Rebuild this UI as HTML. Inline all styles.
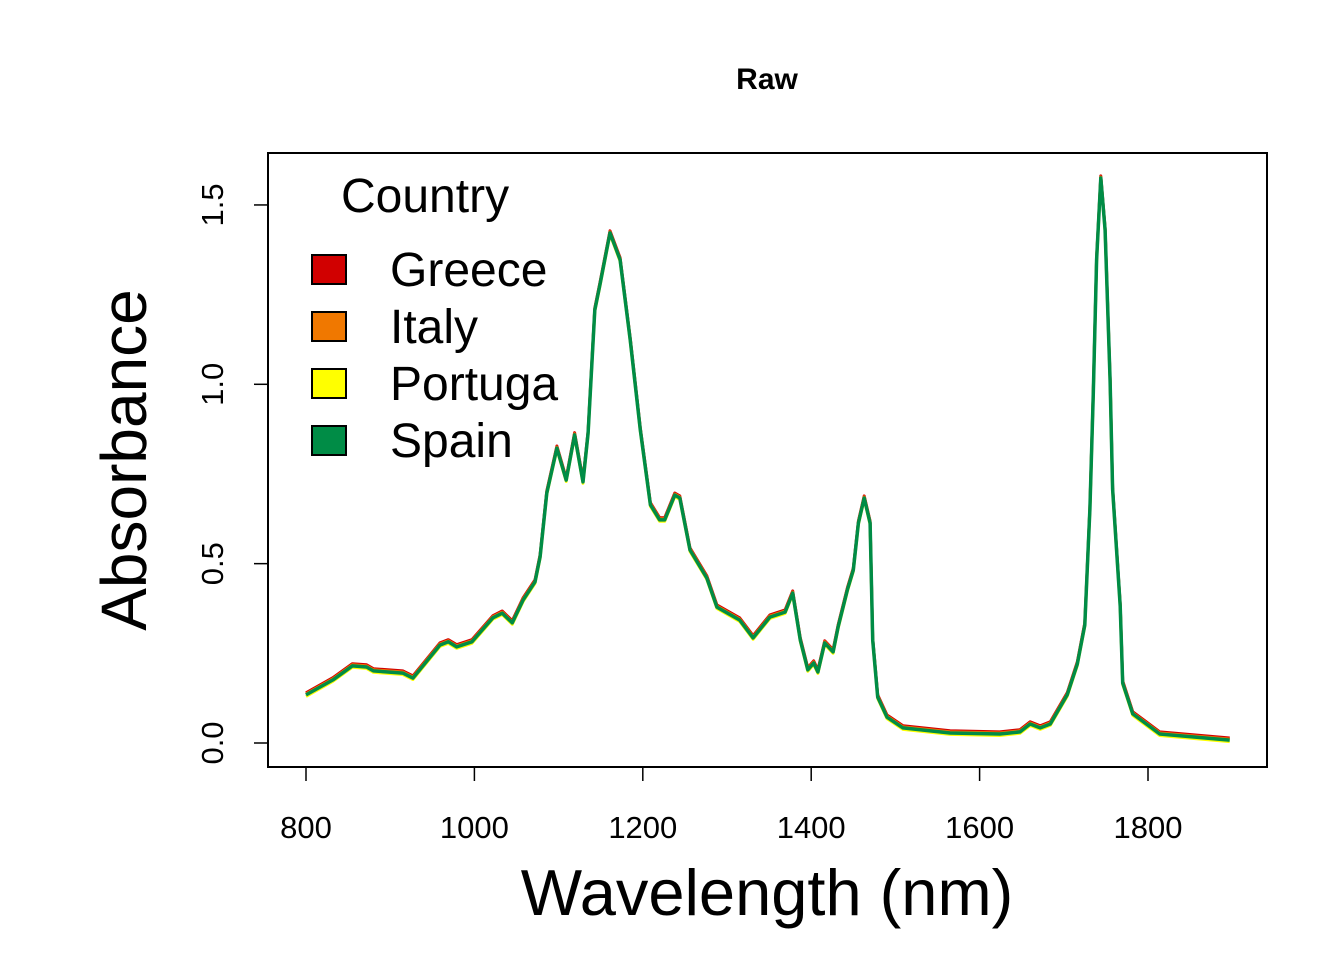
<!DOCTYPE html>
<html><head><meta charset="utf-8"><style>
body{margin:0;background:#fff}
svg{display:block;font-family:"Liberation Sans",Arial,sans-serif}
</style></head><body>
<svg id="chart" width="1344" height="960">
<text x="767" y="89" text-anchor="middle" font-size="30" font-weight="bold">Raw</text>
<rect x="268" y="153" width="999" height="614" fill="none" stroke="#000" stroke-width="2"/>
<g id="xaxis"></g>
<g id="yaxis"></g>
<g id="series"></g>
<text x="767" y="915" text-anchor="middle" font-size="65">Wavelength (nm)</text>
<text transform="translate(146,460) rotate(-90)" text-anchor="middle" font-size="64">Absorbance</text>
<g>
<text x="341" y="212" font-size="48">Country</text>
<g id="legend-items"></g>
</g>
</svg>
<script>
const wavelengths=[800,832,855,872,880,915,927,959,969,979,997,1022,1033,1045,1058,1072,1078,1086,1098,1109,1119,1129,1135,1143,1149,1161,1173,1185,1197,1209,1220,1226,1238,1244,1256,1276,1288,1315,1331,1351,1369,1378,1387,1396,1403,1408,1416,1426,1432,1443,1450,1456,1463,1470,1473,1479,1490,1509,1565,1624,1648,1660,1672,1684,1704,1716,1725,1731,1735,1739,1744,1749,1755,1758,1767,1770,1782,1814,1897];
const absorbance=[0.134,0.176,0.215,0.212,0.201,0.195,0.181,0.273,0.282,0.268,0.282,0.349,0.362,0.335,0.399,0.449,0.519,0.697,0.822,0.733,0.859,0.728,0.864,1.207,1.277,1.422,1.347,1.124,0.873,0.664,0.622,0.622,0.691,0.683,0.538,0.460,0.379,0.343,0.293,0.351,0.365,0.418,0.287,0.204,0.223,0.198,0.279,0.254,0.323,0.427,0.482,0.613,0.683,0.613,0.287,0.128,0.072,0.042,0.028,0.025,0.031,0.053,0.042,0.053,0.134,0.220,0.329,0.652,0.976,1.347,1.575,1.43,1.01,0.708,0.382,0.167,0.081,0.025,0.008];
const countries=["Greece","Italy","Portuga","Spain"];
const colors=["#d10000","#f07800","#ffff00","#008c46"];
const countryOffset=[0.006,0.003,-0.004,0];
const xTicks=[800,1000,1200,1400,1600,1800];
const yTicks=[0,0.5,1,1.5];
const yTickLabels=["0.0","0.5","1.0","1.5"];

const NS="http://www.w3.org/2000/svg";
const X=v=>306+(v-800)*0.842;
const Y=v=>743-v*358.7;
function mk(t,a,p){const e=document.createElementNS(NS,t);for(const k in a)e.setAttribute(k,a[k]);p.appendChild(e);return e;}
const xa=document.getElementById('xaxis');
mk('line',{x1:X(xTicks[0]),x2:X(xTicks[xTicks.length-1]),y1:767,y2:767,stroke:'#000','stroke-width':1.5},xa);
xTicks.forEach(t=>{
  const l=mk('line',{x1:X(t),x2:X(t),y1:767,y2:781,stroke:'#000','stroke-width':1.5},xa);
  
  
  const tx=mk('text',{x:X(t),y:838,'text-anchor':'middle','font-size':31},xa);
  tx.textContent=t;
  
  
});
const ya=document.getElementById('yaxis');
yTicks.forEach((t,i)=>{
  const l=mk('line',{x1:254,x2:268,y1:Y(t),y2:Y(t),stroke:'#000','stroke-width':1.5},ya);
  
  
  const tx=mk('text',{transform:`translate(223,${Y(t)}) rotate(-90)`,'text-anchor':'middle','font-size':31},ya);
  tx.textContent=yTickLabels[i];
  
  
});
const sg=document.getElementById('series');
countries.forEach((c,ci)=>{
  const d=wavelengths.map((w,i)=>(i?'L':'M')+X(w).toFixed(1)+','+Y(absorbance[i]+countryOffset[ci]).toFixed(1)).join('');
  const p=mk('path',{d:d,fill:'none',stroke:colors[ci],'stroke-width':ci==3?3.5:3,'stroke-linejoin':'round'},sg);
  
  
});
const lg=document.getElementById('legend-items');
countries.forEach((c,i)=>{
  const cy=269+i*57;
  const r=mk('rect',{x:312,y:cy-14,width:34,height:29,fill:colors[i],stroke:'#000','stroke-width':2},lg);
  
  
  const t=mk('text',{x:390,y:cy+17,'font-size':48},lg);
  t.textContent=c;
  
  
});
</script>
</body></html>
